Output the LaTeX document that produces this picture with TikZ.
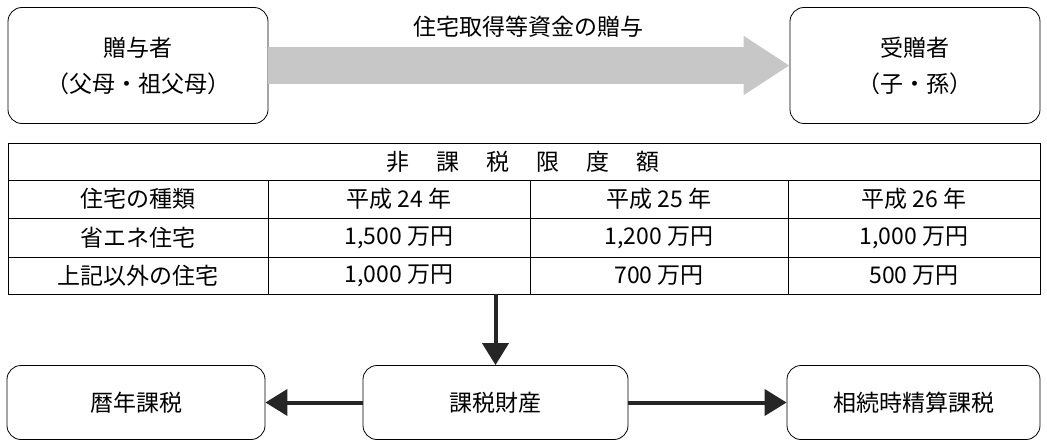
\documentclass[tikz,border=0pt]{standalone}
\usepackage{fontspec}
\setmainfont{Noto Sans CJK JP}
\usetikzlibrary{arrows.meta}
\tikzset{
  rbox/.style={draw=black, line width=0.8pt, rounded corners=14pt, align=center, inner sep=0pt},
  cell/.style={inner sep=0pt, anchor=center},
  txt/.style={font=\fontsize{23}{36}\selectfont},
  thickarrow/.style={line width=4pt, draw=black!85, -{Triangle[length=22pt,width=26pt]}},
}
\begin{document}
\begin{tikzpicture}[x=1pt,y=-1pt]
\useasboundingbox (0,0) rectangle (1047,441);
% top boxes
\node[rbox, txt, minimum width=260pt, minimum height=116pt] (giver) at (138,65.5) {贈与者\\（父母・祖父母）};
\node[rbox, txt, minimum width=250pt, minimum height=116pt] (recv) at (915,65.5) {受贈者\\（子・孫）};
% big gray arrow
\draw[draw=black!22, line width=37pt, -{Triangle[length=46pt,width=56pt]}] (giver.east|-0,65.5) -- (recv.west|-0,65.5);
\node[txt] (gifttext) at (528,27) {住宅取得等資金の贈与};
% table
\node[draw, line width=0.8pt, minimum width=1032pt, minimum height=151pt, inner sep=0pt] (tbl) at (524,218.5) {};
\draw[line width=0.7pt] (8,180) -- (1040,180);
\draw[line width=0.7pt] (8,218) -- (1040,218);
\draw[line width=0.7pt] (8,257) -- (1040,257);
\draw[line width=0.7pt] (268,180) -- (268,294);
\draw[line width=0.7pt] (530,180) -- (530,294);
\draw[line width=0.7pt] (788,180) -- (788,294);
\node[txt, cell] (title) at (523,161.5) {非\hspace{27pt}課\hspace{27pt}税\hspace{27pt}限\hspace{27pt}度\hspace{27pt}額};
\node[txt, cell] (h1) at (138,199) {住宅の種類};
\node[txt, cell] (h2) at (399,199) {平成 24 年};
\node[txt, cell] (h3) at (659,199) {平成 25 年};
\node[txt, cell] (h4) at (914,199) {平成 26 年};
\node[txt, cell] (a1) at (138,237.5) {省エネ住宅};
\node[txt, cell] (a2) at (399,237.5) {1,500 万円};
\node[txt, cell] (a3) at (659,237.5) {1,200 万円};
\node[txt, cell] (a4) at (914,237.5) {1,000 万円};
\node[txt, cell] (b1) at (138,275.5) {上記以外の住宅};
\node[txt, cell] (b2) at (399,275.5) {1,000 万円};
\node[txt, cell] (b3) at (659,275.5) {700 万円};
\node[txt, cell] (b4) at (914,275.5) {500 万円};
% bottom boxes
\node[rbox, txt, minimum width=258pt, minimum height=74pt] (reki) at (136,402.5) {暦年課税};
\node[rbox, txt, minimum width=265pt, minimum height=74pt] (zaisan) at (495.5,402.5) {課税財産};
\node[rbox, txt, minimum width=253pt, minimum height=74pt] (souzoku) at (913.5,402.5) {相続時精算課税};
% arrows
\draw[thickarrow] (tbl.south-|zaisan.north) -- (zaisan.north);
\draw[thickarrow] (zaisan.west) -- (reki.east);
\draw[thickarrow] (zaisan.east) -- (souzoku.west);
\end{tikzpicture}
\end{document}
